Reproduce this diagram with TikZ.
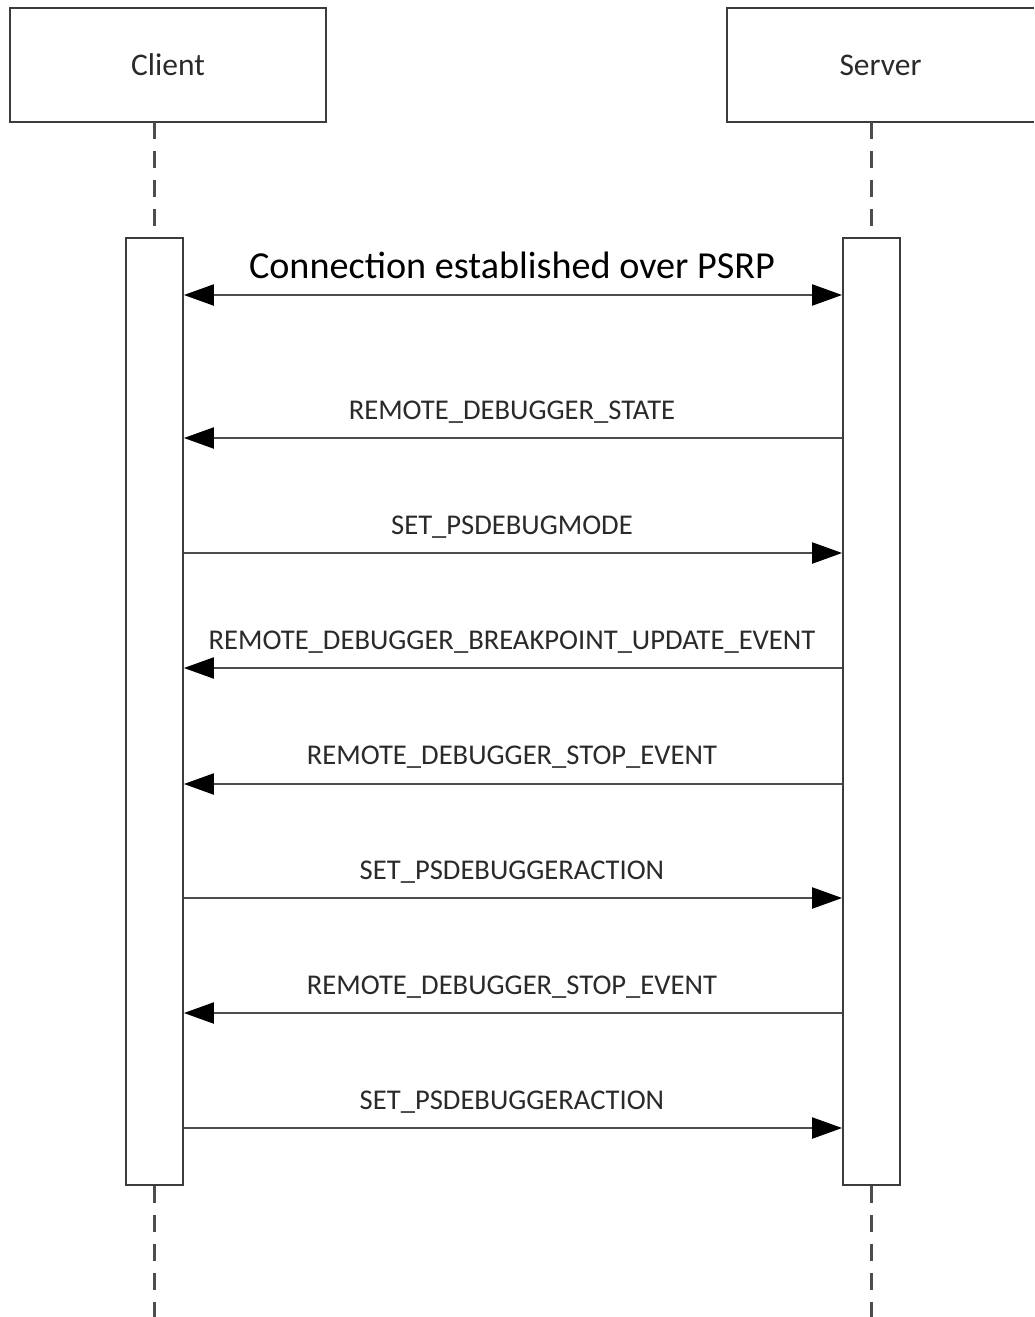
\documentclass[tikz,border=0pt]{standalone}
\usepackage{fontspec}
\setmainfont{Carlito}
\usetikzlibrary{arrows.meta}
\definecolor{boxc}{HTML}{3C3C3C}
\definecolor{linec}{HTML}{4D4D4D}
\definecolor{txtc}{HTML}{2A2A2A}
\tikzset{
  headbox/.style={draw=none, minimum height=114pt, inner sep=0pt, text=txtc, font=\fontsize{31.5}{36}\selectfont},
  actbox/.style={draw=boxc, line width=1.8pt, fill=white, minimum width=57pt, minimum height=947pt, inner sep=0pt},
  lifeline/.style={draw=linec, line width=2.6pt, dash pattern=on 17pt off 12pt},
  msg/.style={draw=linec, line width=2.2pt, -{Triangle[length=30pt,width=21pt,color=black]}},
  dmsg/.style={draw=linec, line width=2.2pt, {Triangle[length=30pt,width=21pt,color=black]}-{Triangle[length=30pt,width=21pt,color=black]}},
  lbl/.style={anchor=base, inner sep=0pt, text=txtc, font=\fontsize{28.6}{34}\selectfont},
  biglbl/.style={anchor=base, inner sep=0pt, text=black, font=\fontsize{38.2}{44}\selectfont}
}
\begin{document}
\begin{tikzpicture}[x=1pt,y=-1pt]
\useasboundingbox (0,0) rectangle (1034,1317);
% heads
\node[headbox, minimum width=316pt] (client) at (168,65) {Client};
\draw[boxc, line width=2pt] (client.south west) rectangle (client.north east);
\node[headbox, minimum width=307pt] (server) at (880.5,65) {Server};
\draw[boxc, line width=2pt] (server.north east) -- (server.north west) -- (server.south west) -- (server.south east);
% activation boxes
\node[actbox] (ca) at (154.5,711.5) {};
\node[actbox] (sa) at (871.5,711.5) {};
% lifelines
\coordinate (cend) at (154.5,1317);
\coordinate (send) at (871.5,1317);
\coordinate (ctop) at (154.5,228);
\coordinate (stop) at (871.5,228);
\draw[lifeline] (client.south -| ctop) -- (ctop);
\draw[lifeline] (server.south -| stop) -- (stop);
\draw[lifeline] (ca.south) -- (cend);
\draw[lifeline] (sa.south) -- (send);
% messages
\draw[dmsg] (ca.east |- 0,295) -- (sa.west |- 0,295);
\node[biglbl] (m0) at (512,278) {Connection established over PSRP};
\draw[msg] (sa.west |- 0,438) -- (ca.east |- 0,438);
\node[lbl] (m1) at (512,419) {REMOTE\_DEBUGGER\_STATE};
\draw[msg] (ca.east |- 0,553) -- (sa.west |- 0,553);
\node[lbl] (m2) at (512,534) {SET\_PSDEBUGMODE};
\draw[msg] (sa.west |- 0,668) -- (ca.east |- 0,668);
\node[lbl] (m3) at (512,649) {REMOTE\_DEBUGGER\_BREAKPOINT\_UPDATE\_EVENT};
\draw[msg] (sa.west |- 0,784) -- (ca.east |- 0,784);
\node[lbl] (m4) at (512,764) {REMOTE\_DEBUGGER\_STOP\_EVENT};
\draw[msg] (ca.east |- 0,898) -- (sa.west |- 0,898);
\node[lbl] (m5) at (512,879) {SET\_PSDEBUGGERACTION};
\draw[msg] (sa.west |- 0,1013) -- (ca.east |- 0,1013);
\node[lbl] (m6) at (512,994) {REMOTE\_DEBUGGER\_STOP\_EVENT};
\draw[msg] (ca.east |- 0,1128) -- (sa.west |- 0,1128);
\node[lbl] (m7) at (512,1109) {SET\_PSDEBUGGERACTION};
\end{tikzpicture}
\end{document}
